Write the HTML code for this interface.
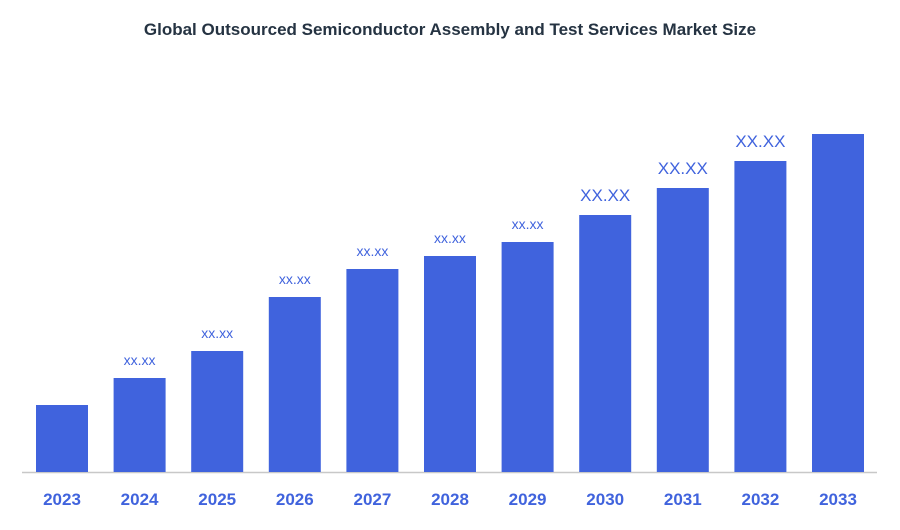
<!DOCTYPE html>
<html><head><meta charset="utf-8"><style>
body{margin:0;background:#fff;width:900px;height:525px;overflow:hidden;font-family:"Liberation Sans",sans-serif}
</style></head><body>
<svg width="900" height="525">
<text x="450" y="35" text-anchor="middle" font-size="17" font-weight="bold" fill="#253342">Global Outsourced Semiconductor Assembly and Test Services Market Size</text>
<line x1="22" y1="472.5" x2="877" y2="472.5" stroke="#c8c8c8" stroke-width="1.5"/>
<g id="bars"></g>
</svg>
<script>
const categories=["2023","2024","2025","2026","2027","2028","2029","2030","2031","2032","2033"];
const values=[67,94,121,175,203,216,230,257,284,311,338];
const valueLabels=["","xx.xx","xx.xx","xx.xx","xx.xx","xx.xx","xx.xx","XX.XX","XX.XX","XX.XX",""];
const baseY=472, x0=62, step=77.6, bw=52;
const xs=i=>x0+i*step;
const ys=v=>baseY-v;
const g=document.getElementById('bars');
const NS="http://www.w3.org/2000/svg";
categories.forEach((c,i)=>{
  const r=document.createElementNS(NS,'rect');
  r.setAttribute('x',xs(i)-bw/2);r.setAttribute('y',ys(values[i]));
  r.setAttribute('width',bw);r.setAttribute('height',values[i]);r.setAttribute('fill','#4063dd');
  
  
  g.appendChild(r);
  const t=document.createElementNS(NS,'text');
  t.setAttribute('x',xs(i));t.setAttribute('y',505);t.setAttribute('text-anchor','middle');
  t.setAttribute('font-size','17');t.setAttribute('font-weight','bold');t.setAttribute('fill','#4063dd');
  t.textContent=c;
  
  
  g.appendChild(t);
  if(valueLabels[i]){
    const big=valueLabels[i]==="XX.XX";
    const l=document.createElementNS(NS,'text');
    l.setAttribute('x',xs(i));l.setAttribute('y',ys(values[i])-(big?14:13));l.setAttribute('text-anchor','middle');
    l.setAttribute('font-size',big?'17':'14');l.setAttribute('fill','#4063dd');
    l.textContent=valueLabels[i];
    
    
    g.appendChild(l);
  }
});
</script>
</body></html>
